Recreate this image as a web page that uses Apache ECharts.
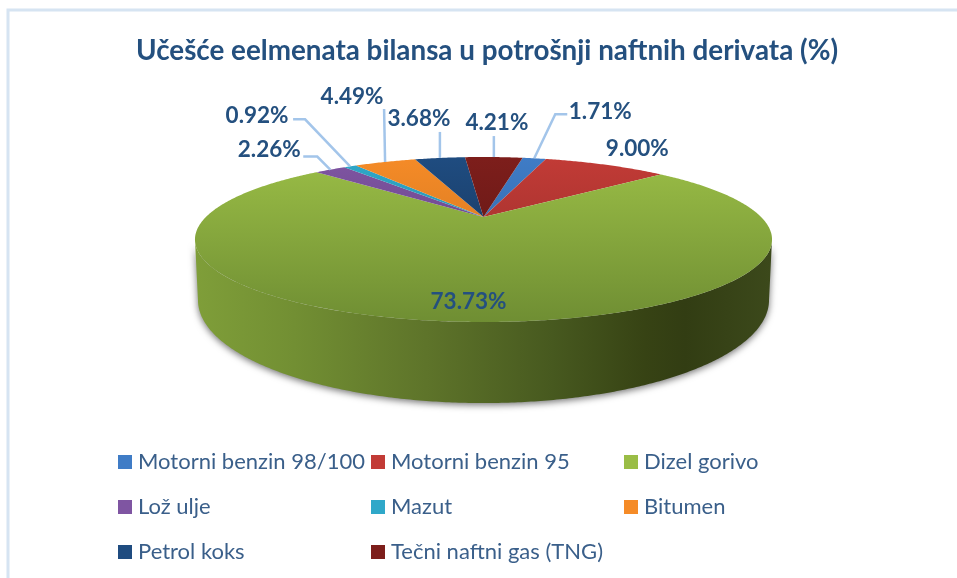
<!DOCTYPE html>
<html><head><meta charset="utf-8">
<style>html,body{margin:0;padding:0;background:#fff}#c{width:957px;height:578px}</style>
<script src="https://cdn.jsdelivr.net/npm/echarts@6/dist/echarts.min.js"></script>
</head><body><div id="c"></div>
<script>
const chartTitle = 'Učešće eelmenata bilansa u potrošnji naftnih derivata (%)';
const categories = ['Motorni benzin 98/100','Motorni benzin 95','Dizel gorivo','Lož ulje','Mazut','Bitumen','Petrol koks','Tečni naftni gas (TNG)'];
const shares = [1.71, 9.00, 73.73, 2.26, 0.92, 4.49, 3.68, 4.21];

// styles and layout, separate from the values
const topColors = ['#3f7cc6','#c23b36','#9abd46','#7f55a2','#2fa8c9','#f58b27','#1f4c80','#7d1e1b'];
const lowColors = ['#2f5f9c','#8f2b29','#6f8e33','#5c3c7a','#23809a','#c56f1f','#142f52','#581413'];
const firstSliceDeg = 10.3;
const disk = {cx:483.5, apexY:217, R:277.6, a:76.36, b:0.2727};
const base = {cx:483.5, apexY:272, R:274.7, a:95.3, b:0.2727};
const wallStops = [[0,'#7f9e39'],[0.17,'#728f33'],[0.4,'#5e742a'],[0.62,'#47591f'],[0.78,'#374314'],[0.85,'#323d13'],[1,'#3c491b']];
// label centre and leader bend points, as offsets from each slice's rim midpoint
const callouts = [
 {label:[66,-47], leader:[[21,-44],[33,-44]]},
 {label:[32,-16], leader:[]},
 {label:[-4.5,-20], leader:[]},
 {label:[-61,-20], leader:[[-13,-13],[-27,-13]]},
 {label:[-93,-51], leader:[[-45,-47],[-57,-47]]},
 {label:[-33,-65], leader:[[-1,-53]]},
 {label:[-21,-39], leader:[[0,-26]]},
 {label:[3,-34], leader:[[0,-21]]}
];
const textBlue = '#24507f', legendBlue = '#3a5f8a', leaderBlue = '#a3c5ea';
const labelFont = 'bold 22.5px Lato', rad = Math.PI/180;

function rim(p, deg){
  const X = Math.sin(deg*rad), Y = Math.cos(deg*rad), w = 1 + p.b*Y;
  return [p.cx + p.R*X/w, p.apexY - p.a*Y/w];
}
function arc(p, d0, d1){
  const pts = [], n = Math.max(2, Math.ceil(Math.abs(d1-d0)/0.5));
  for(let i=0;i<=n;i++) pts.push(rim(p, d0+(d1-d0)*i/n));
  return pts;
}
const total = shares.reduce((s,v)=>s+v,0);
const startDeg = shares.map((_,i)=>firstSliceDeg + shares.slice(0,i).reduce((s,v)=>s+v,0)/total*360);
const wallFrom = 105.8, wallTo = 254.2;

function sliceRender(params, api){
  const i = params.seriesIndex, sweep = api.value(0)/total*360, d0 = startDeg[i], d1 = d0+sweep;
  const children = [];
  const w0 = Math.max(d0, wallFrom), w1 = Math.min(d1, wallTo);
  if(w1>w0){
    children.push({type:'polygon', z2:1, shape:{points:arc(disk,w0,w1).concat(arc(base,w1,w0))},
      style:{fill:{type:'linear',x:196,y:0,x2:771,y2:0,global:true,
        colorStops:wallStops.map(s=>({offset:s[0],color:s[1]}))},
        shadowBlur:7,shadowColor:'rgba(0,0,0,0.55)',shadowOffsetY:2}});
  }
  children.push({type:'polygon', z2:2, shape:{points:[[disk.cx,disk.apexY]].concat(arc(disk,d0,d1))},
    style:{fill:{type:'linear',x:0,y:157,x2:0,y2:322,global:true,
      colorStops:[{offset:0,color:topColors[i]},{offset:1,color:lowColors[i]}]}}});
  return {type:'group',children};
}
function calloutRender(params, api){
  const i = params.dataIndex, v = api.value(0), mid = rim(disk, startDeg[i]+v/total*180), c = callouts[i];
  const children = [];
  if(c.leader.length){
    children.push({type:'polyline',shape:{points:[mid].concat(c.leader.map(o=>[mid[0]+o[0],mid[1]+o[1]]))},
      style:{stroke:leaderBlue,lineWidth:2.5,fill:null}});
  }
  children.push({type:'text',style:{text:v.toFixed(2)+'%',x:mid[0]+c.label[0],y:mid[1]+c.label[1],
    fill:textBlue,font:labelFont,align:'center',verticalAlign:'middle'}});
  return {type:'group',children};
}
const sliceSeries = categories.map((name,i)=>({
  type:'custom',name,coordinateSystem:'none',silent:true,animation:false,
  itemStyle:{color:topColors[i]},data:[[shares[i]]],renderItem:sliceRender,z:2
}));
const legendCols = [[0,3,6],[1,4,7],[2,5]];
const legendLeft = [118,371,624];
const legendTextSize = 22;
const chart = echarts.init(document.getElementById('c'),null,{renderer:'canvas'});
chart.setOption({
  animation:false,
  backgroundColor:'#ffffff',
  title:{text:chartTitle,left:136,top:37,padding:0,
    textStyle:{fontFamily:'Lato',fontWeight:'bold',fontSize:27.8,color:'#24507f'}},
  legend:legendCols.map((col,k)=>({
    orient:'vertical',left:legendLeft[k],top:450,padding:0,itemGap:21,itemStyle:{borderWidth:0},
    itemWidth:14,itemHeight:14,icon:'rect',selectedMode:false,
    data:col.map(i=>categories[i]),
    textStyle:{fontFamily:'Lato',fontSize:legendTextSize,color:legendBlue,padding:[0,0,0,1],height:24,lineHeight:24}
  })),
  graphic:[{type:'polyline',silent:true,z:0,
    shape:{points:[[957,10],[8,10],[8,578]]},
    style:{stroke:'#d6e4f2',lineWidth:3,fill:null}}],
  series:sliceSeries.concat([{
    type:'custom',name:'callouts',coordinateSystem:'none',silent:true,animation:false,
    data:shares.map(v=>[v]),renderItem:calloutRender,z:5
  }])
});
</script></body></html>
